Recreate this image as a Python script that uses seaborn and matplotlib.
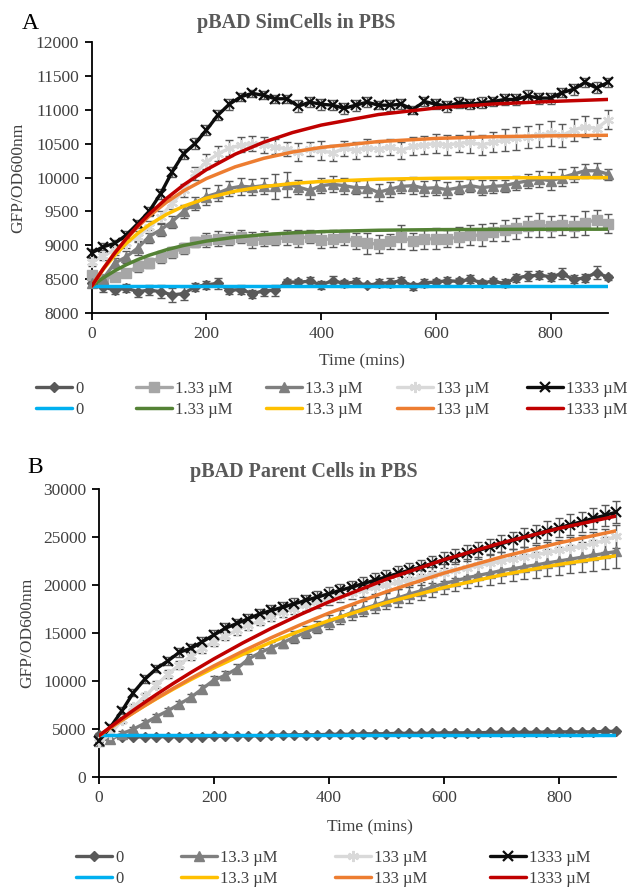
import numpy as np
import matplotlib
matplotlib.use("Agg")
import matplotlib.pyplot as plt
from matplotlib.lines import Line2D
import seaborn as sns

# time points of the measurements (every 20 min) and of the fitted curves
time = np.arange(0, 901, 20)
fit_time = [0, 20, 40, 60, 80, 100, 130, 160, 200, 250, 300, 350, 400, 500, 600, 700, 800, 900]

conc_a = ["0", "1.33 µM", "13.3 µM", "133 µM", "1333 µM"]
conc_b = ["0", "13.3 µM", "133 µM", "1333 µM"]

# ---- panel A: pBAD SimCells in PBS ----
a_0 = [8440, 8390, 8340, 8370, 8320, 8340, 8320, 8270, 8290, 8390,
       8420, 8440, 8340, 8350, 8290, 8330, 8340, 8460, 8460, 8470,
       8420, 8480, 8440, 8460, 8410, 8440, 8450, 8480, 8400, 8450,
       8460, 8480, 8470, 8500, 8450, 8470, 8440, 8520, 8550, 8560,
       8540, 8580, 8500, 8520, 8600, 8530]
a_1_33 = [8560, 8510, 8540, 8590, 8690, 8740, 8830, 8900, 8960, 9050,
          9080, 9100, 9100, 9130, 9080, 9100, 9090, 9120, 9100, 9130,
          9080, 9100, 9120, 9060, 9030, 9020, 9060, 9120, 9060, 9090,
          9100, 9100, 9120, 9150, 9150, 9200, 9220, 9250, 9280, 9300,
          9280, 9300, 9280, 9330, 9380, 9320]
a_13_3 = [8440, 8510, 8740, 8830, 8960, 9130, 9230, 9350, 9500, 9620,
          9720, 9770, 9840, 9870, 9860, 9880, 9870, 9900, 9860, 9810,
          9880, 9900, 9880, 9850, 9850, 9780, 9830, 9870, 9880, 9840,
          9850, 9820, 9850, 9880, 9850, 9870, 9880, 9920, 9950, 9980,
          9950, 10000, 10050, 10100, 10100, 10050]
a_133 = [8760, 8850, 8930, 9030, 9130, 9270, 9420, 9620, 9810, 10060,
         10230, 10350, 10430, 10480, 10500, 10480, 10450, 10420, 10380, 10420,
         10400, 10360, 10430, 10400, 10440, 10420, 10450, 10400, 10460, 10480,
         10500, 10480, 10500, 10520, 10480, 10520, 10550, 10580, 10600, 10620,
         10650, 10620, 10700, 10750, 10720, 10850]
a_1333 = [8890, 8980, 9030, 9150, 9320, 9500, 9760, 10080, 10350, 10500,
          10700, 10920, 11080, 11190, 11240, 11210, 11160, 11160, 11050, 11110,
          11080, 11065, 11020, 11065, 11110, 11065, 11065, 11080, 11000, 11120,
          11080, 11050, 11100, 11080, 11100, 11120, 11150, 11150, 11200, 11170,
          11170, 11250, 11300, 11400, 11320, 11400]

a_0_err = [40, 70, 60, 60, 80, 70, 90, 100, 100, 60, 60, 80, 50, 70, 60, 70, 80, 40, 50, 60,
           60, 70, 50, 60, 30, 60, 70, 60, 50, 60, 40, 60, 50, 60, 40, 50, 60, 60, 70, 60,
           60, 80, 60, 60, 90, 40]
a_1_33_err = [60, 50, 60, 60, 80, 80, 90, 80, 80, 80, 100, 110, 100, 100, 120, 110, 90, 110, 120, 100,
              120, 130, 110, 120, 150, 130, 110, 180, 130, 140, 150, 130, 150, 150, 160, 130, 150, 160, 160, 170,
              160, 150, 160, 170, 140, 140]
a_13_3_err = [60, 60, 80, 90, 100, 100, 90, 90, 100, 100, 130, 120, 110, 130, 120, 120, 180, 180, 100, 120,
              110, 120, 120, 100, 130, 130, 110, 100, 130, 110, 110, 120, 100, 100, 110, 100, 90, 100, 100, 120,
              130, 120, 110, 100, 110, 80]
a_133_err = [60, 60, 70, 70, 80, 90, 90, 90, 100, 100, 110, 110, 120, 110, 110, 120, 110, 110, 130, 100,
             140, 120, 110, 120, 130, 110, 120, 120, 130, 130, 140, 150, 130, 160, 150, 150, 160, 170, 160, 170,
             180, 170, 160, 150, 160, 140]
a_1333_err = [60, 50, 50, 60, 60, 60, 70, 70, 70, 80, 80, 80, 80, 60, 50, 60, 60, 60, 90, 70,
              80, 70, 80, 80, 70, 60, 80, 70, 60, 70, 70, 80, 80, 70, 80, 70, 80, 80, 90, 80,
              80, 70, 80, 70, 80, 60]

fit_a_0 = [8400] * len(fit_time)
fit_a_1_33 = [8400, 8521, 8625, 8714, 8790, 8855, 8935, 8999, 9064, 9121, 9159, 9185, 9203, 9223, 9232, 9236, 9238, 9239]
fit_a_13_3 = [8400, 8645, 8852, 9028, 9176, 9302, 9456, 9576, 9696, 9799, 9867, 9912, 9942, 9975, 9989, 9995, 9998, 9999]
fit_a_133 = [8400, 8660, 8890, 9093, 9272, 9430, 9634, 9803, 9985, 10157, 10283, 10375, 10443, 10530, 10576, 10601, 10614, 10622]
fit_a_1333 = [8400, 8654, 8886, 9096, 9287, 9460, 9690, 9890, 10116, 10343, 10521, 10662, 10772, 10928, 11024, 11083, 11120, 11150]

# ---- panel B: pBAD Parent Cells in PBS ----
b_0 = [4400, 4200, 4200, 4150, 4200, 4200, 4200, 4200, 4200, 4200,
       4250, 4250, 4300, 4300, 4300, 4350, 4350, 4400, 4400, 4400,
       4450, 4450, 4450, 4500, 4500, 4500, 4550, 4550, 4550, 4550,
       4600, 4600, 4600, 4600, 4650, 4650, 4650, 4650, 4650, 4700,
       4700, 4700, 4700, 4700, 4750, 4750]
b_13_3 = [3800, 4000, 4500, 5000, 5600, 6300, 6900, 7600, 8300, 9200,
          10100, 10600, 11300, 12300, 12950, 13480, 14000, 14560, 15100, 15600,
          16140, 16670, 17150, 17550, 17900, 18300, 18650, 19050, 19400, 19800,
          20150, 20450, 20750, 21000, 21250, 21500, 21700, 21900, 22100, 22300,
          22500, 22700, 22900, 23100, 23300, 23500]
b_133 = [3600, 4500, 5900, 7300, 8400, 9600, 10700, 11700, 12600, 13400,
         14100, 14700, 15300, 15800, 16300, 16800, 17200, 17550, 17900, 18200,
         18550, 18850, 19150, 19450, 19750, 20000, 20300, 20550, 20800, 21050,
         21300, 21550, 21800, 22050, 22250, 22500, 22700, 22950, 23150, 23400,
         23600, 23850, 24050, 24350, 24650, 25100]
b_1333 = [3800, 5200, 6900, 8800, 10200, 11300, 12100, 13000, 13400, 14100,
          14800, 15500, 16000, 16500, 17000, 17350, 17700, 18050, 18400, 18750,
          19100, 19450, 19800, 20150, 20500, 20850, 21200, 21550, 21900, 22250,
          22600, 22950, 23300, 23600, 23950, 24300, 24650, 24950, 25300, 25650,
          25950, 26300, 26600, 26950, 27250, 27600]

b_0_err = [150, 120, 120, 120, 120, 120, 120, 120, 120, 120, 120, 120, 120, 120, 120, 120, 120, 120, 120, 120,
           120, 120, 120, 120, 120, 120, 120, 120, 120, 120, 130, 130, 130, 130, 130, 130, 130, 130, 130, 130,
           130, 130, 130, 130, 130, 130]
b_13_3_err = [200, 200, 250, 250, 300, 300, 300, 350, 350, 400, 400, 450, 450, 500, 500, 550, 550, 600, 600, 650,
              700, 700, 750, 800, 800, 850, 900, 900, 950, 1000, 1050, 1100, 1100, 1150, 1200, 1250, 1300, 1300, 1350, 1400,
              1450, 1500, 1550, 1600, 1650, 1700]
b_133_err = [200, 250, 300, 300, 350, 350, 400, 400, 400, 450, 450, 450, 500, 500, 500, 550, 550, 550, 600, 600,
             600, 650, 650, 700, 700, 700, 750, 750, 800, 800, 850, 850, 900, 900, 950, 950, 1000, 1000, 1050, 1050,
             1100, 1100, 1150, 1150, 1200, 1200]
b_1333_err = [200, 300, 350, 400, 400, 400, 450, 450, 450, 450, 500, 500, 500, 500, 550, 550, 550, 600, 600, 600,
              650, 650, 650, 700, 700, 700, 750, 750, 750, 800, 800, 800, 850, 850, 850, 900, 900, 950, 950, 1000,
              1000, 1050, 1050, 1100, 1100, 1150]

fit_b_0 = [4370] * len(fit_time)
fit_b_13_3 = [4300, 5127, 5924, 6693, 7435, 8151, 9177, 10150, 11367, 12771, 14054, 15226, 16298, 18172, 19737, 21045, 22138, 23050]
fit_b_133 = [4300, 5123, 5923, 6702, 7459, 8194, 9260, 10283, 11580, 13103, 14523, 15848, 17082, 19307, 21241, 22922, 24384, 25654]
fit_b_1333 = [4300, 5213, 6100, 6960, 7794, 8604, 9775, 10893, 12309, 13963, 15497, 16921, 18242, 20604, 22637, 24387, 25893, 27189]

# marker styles per concentration
marker_style = {
    "0": ("#595959", "D", 5.5),
    "1.33 µM": ("#a6a6a6", "s", 6.5),
    "13.3 µM": ("#7f7f7f", "^", 7.5),
    "133 µM": ("#d9d9d9", (6, 2, 0), 8),
    "1333 µM": ("#0d0d0d", "x", 7.5),
}
fit_color = {
    "0": "#00b0f0",
    "1.33 µM": "#548235",
    "13.3 µM": "#ffc000",
    "133 µM": "#ed7d31",
    "1333 µM": "#c00000",
}

sns.set_theme(style="ticks")
plt.rcParams["font.family"] = ["Liberation Serif", "DejaVu Serif"]
text_grey = "#404040"


def draw_panel(ax, labels, data, errs, fits, yticks):
    handles = []
    for lab, vals, err in zip(labels, data, errs):
        col, mk, ms = marker_style[lab]
        ax.errorbar(time, vals, yerr=err, fmt="none", ecolor="#595959",
                    elinewidth=1, capsize=3, capthick=1, zorder=2, clip_on=False)
        mew = 1.6 if mk in ("x", (6, 2, 0)) else 1
        sns.lineplot(x=time, y=vals, ax=ax, color=col, lw=2.4, marker=mk,
                     markersize=ms, markeredgecolor=col, markeredgewidth=mew,
                     markerfacecolor=col, zorder=3, clip_on=False, legend=False)
        handles.append(Line2D([], [], color=col, lw=2.4, marker=mk, markersize=ms,
                              markeredgecolor=col, markerfacecolor=col, markeredgewidth=mew))
    fit_handles = []
    for lab, vals in zip(labels, fits):
        sns.lineplot(x=fit_time, y=vals, ax=ax, color=fit_color[lab], lw=2.5,
                     zorder=4, legend=False)
        fit_handles.append(Line2D([], [], color=fit_color[lab], lw=2.5))
    ax.set_xlim(0, 900)
    ax.set_ylim(yticks[0], yticks[-1])
    ax.set_xticks([0, 200, 400, 600, 800])
    ax.set_yticks(yticks)
    ax.set_xlabel("")
    ax.set_ylabel("")
    sns.despine(ax=ax)
    for s in ("left", "bottom"):
        ax.spines[s].set_color("black")
        ax.spines[s].set_linewidth(1.3)
    ax.tick_params(direction="out", length=5, width=1.3, color="black",
                   labelsize=12.5, labelcolor=text_grey, pad=4)
    return handles, fit_handles


fig = plt.figure(figsize=(6.3, 8.88), dpi=100)

ax_a = fig.add_axes([0.1456, 0.6472, 0.8195, 0.3058])
h_a, f_a = draw_panel(ax_a, conc_a, [a_0, a_1_33, a_13_3, a_133, a_1333],
                      [a_0_err, a_1_33_err, a_13_3_err, a_133_err, a_1333_err],
                      [fit_a_0, fit_a_1_33, fit_a_13_3, fit_a_133, fit_a_1333],
                      list(range(8000, 12001, 500)))

ax_b = fig.add_axes([0.1571, 0.125, 0.8214, 0.3243])
h_b, f_b = draw_panel(ax_b, conc_b, [b_0, b_13_3, b_133, b_1333],
                      [b_0_err, b_13_3_err, b_133_err, b_1333_err],
                      [fit_b_0, fit_b_13_3, fit_b_133, fit_b_1333],
                      list(range(0, 30001, 5000)))

# titles, panel letters, axis labels
fig.text(0.035, 0.974, "A", fontsize=17, color="black", va="center", ha="left")
fig.text(0.044, 0.474, "B", fontsize=17, color="black", va="center", ha="left")
fig.text(0.47, 0.974, "pBAD SimCells in PBS", fontsize=14.5, fontweight="bold",
         color="#595959", ha="center", va="center")
fig.text(0.483, 0.468, "pBAD Parent Cells in PBS", fontsize=14.5, fontweight="bold",
         color="#595959", ha="center", va="center")
fig.text(0.575, 0.5935, "Time (mins)", fontsize=12.5, color=text_grey, ha="center", va="center")
fig.text(0.587, 0.0687, "Time (mins)", fontsize=12.5, color=text_grey, ha="center", va="center")
fig.text(0.029, 0.80, "GFP/OD600nm", fontsize=12.5, color=text_grey, rotation=90,
         ha="center", va="center")
fig.text(0.044, 0.287, "GFP/OD600nm", fontsize=12.5, color=text_grey, rotation=90,
         ha="center", va="center")


def column_legend(handles, fits, labels, xs, y):
    for h, f, lab, x in zip(handles, fits, labels, xs):
        fig.legend([h, f], [lab, lab], loc="center left", bbox_to_anchor=(x, y),
                   frameon=False, fontsize=12, borderpad=0, borderaxespad=0,
                   handlelength=2.15, handletextpad=0.2, labelspacing=0.3,
                   labelcolor=text_grey)


column_legend(h_a, f_a, conc_a, [36 / 630, 136 / 630, 266 / 630, 397 / 630, 527 / 630],
              1 - 399.5 / 888)
column_legend(h_b, f_b, conc_b, [76 / 630, 181 / 630, 335 / 630, 490 / 630],
              1 - 868.5 / 888)

fig.savefig("out.png", dpi=100)
